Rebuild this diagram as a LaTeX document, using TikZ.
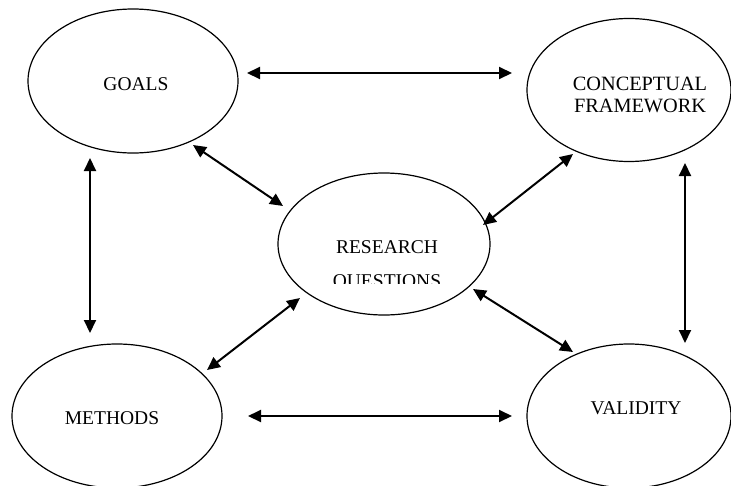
\documentclass[tikz,border=0pt]{standalone}
\usepackage{fontspec}
\setmainfont{Liberation Serif}
\usetikzlibrary{shapes.geometric,arrows.meta}
\begin{document}
\begin{tikzpicture}[x=1pt,y=-1pt,
  oval/.style={draw,ellipse,line width=1.2pt,inner sep=0pt},
  lbl/.style={anchor=base,inner sep=0pt,font=\fontsize{19.5}{22}\selectfont},
  link/.style={line width=2pt,{Triangle[length=13pt,width=12pt]}-{Triangle[length=13pt,width=12pt]}}]
\useasboundingbox (0,0) rectangle (731,485);
\node[oval,minimum width=210pt,minimum height=144pt] (g) at (133,81) {};
\node[oval,minimum width=204pt,minimum height=143pt] (c) at (629,90) {};
\node[oval,minimum width=212pt,minimum height=142pt] (r) at (384,244) {};
\node[oval,minimum width=210pt,minimum height=144pt] (m) at (117,416) {};
\node[oval,minimum width=204pt,minimum height=144pt] (v) at (629,416) {};
\node[lbl] (gt) at (136,90) {GOALS};
\node[lbl,font=\fontsize{20.3}{22}\selectfont] (ct1) at (640,90) {CONCEPTUAL};
\node[lbl,font=\fontsize{20.3}{22}\selectfont] (ct2) at (640,112) {FRAMEWORK};
\node[lbl] (rt1) at (387,253) {RESEARCH};
\begin{scope}
\clip (0,0) rectangle (731,283);
\node[lbl] (rt2) at (387,287) {QUESTIONS};
\end{scope}
\node[lbl] (mt) at (112,424) {METHODS};
\node[lbl] (vt) at (636,414) {VALIDITY};
% arrow ends
\coordinate (gc1) at (247,73); \coordinate (gc2) at (512,73);
\coordinate (gm1) at (90,158); \coordinate (gm2) at (90,333);
\coordinate (cv1) at (685,163); \coordinate (cv2) at (685,343);
\coordinate (mv1) at (248,416); \coordinate (mv2) at (512,416);
\coordinate (gr1) at (193,145); \coordinate (gr2) at (283,206);
\coordinate (cr1) at (573,154); \coordinate (cr2) at (483,225);
\coordinate (mr1) at (300,298); \coordinate (mr2) at (207,370);
\coordinate (vr1) at (473,289); \coordinate (vr2) at (573,352);
\draw[link] (gc1) -- (gc2);
\draw[link] (gm1) -- (gm2);
\draw[link] (cv1) -- (cv2);
\draw[link] (mv1) -- (mv2);
\draw[link] (gr1) -- (gr2);
\draw[link] (cr1) -- (cr2);
\draw[link] (mr1) -- (mr2);
\draw[link] (vr1) -- (vr2);
\end{tikzpicture}
\end{document}
